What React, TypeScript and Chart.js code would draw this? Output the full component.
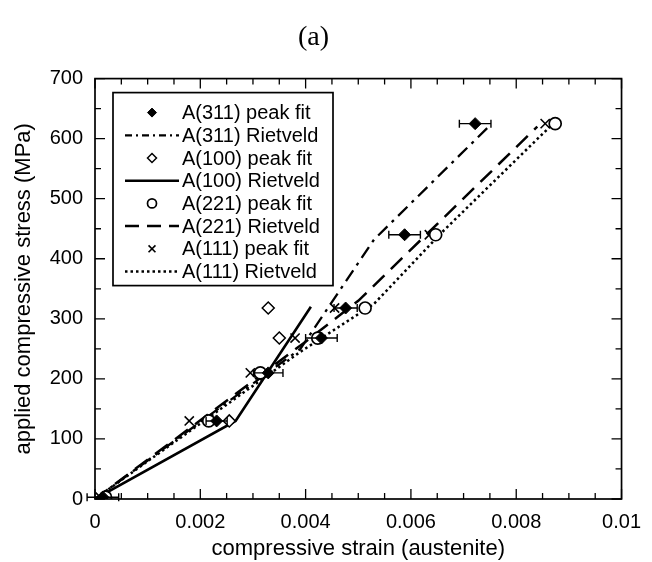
import { useEffect, useRef } from 'react';
import { Chart, registerables } from 'chart.js';
import { drawPoint } from 'chart.js/helpers';

Chart.register(...registerables);

const titleText = '(a)';
const xAxisTitle = 'compressive strain (austenite)';
const yAxisTitle = 'applied compressive stress (MPa)';
const xTickLabels = ['0', '0.002', '0.004', '0.006', '0.008', '0.01'];
const yTickLabels = ['0', '100', '200', '300', '400', '500', '600', '700'];

// peak fits
const a311Strain = [0.00015, 0.00231, 0.00329, 0.0043, 0.00476, 0.00588, 0.00722];
const a311Stress = [3, 130, 210, 268, 318, 440, 625];
const a311Err = [0.0003, 0.0002, 0.00028, 0.0003, 0.00022, 0.0003, 0.0003];

const a100Strain = [0.00255, 0.0035, 0.00329];
const a100Stress = [130, 268, 318];

const a221Strain = [0.0002, 0.00216, 0.00314, 0.00423, 0.00513, 0.00647, 0.00874];
const a221Stress = [3, 130, 210, 268, 318, 440, 625];

const a111Strain = [0.0001, 0.00179, 0.00295, 0.0038, 0.00455, 0.00635, 0.00855];
const a111Stress = [3, 130, 210, 268, 318, 440, 625];

// Rietveld fits
const a311RvStrain = [0, 0.0039, 0.0053, 0.0075];
const a311RvStress = [0, 250, 432, 622];
const a100RvStrain = [0, 0.00267, 0.0041];
const a100RvStress = [0, 130, 320];
const a221RvStrain = [0, 0.004, 0.005, 0.0084];
const a221RvStress = [0, 262, 330, 620];
const a111RvStrain = [0, 0.0039, 0.0053, 0.0066, 0.0087];
const a111RvStress = [0, 245, 325, 445, 625];

const legendLabels = [
  'A(311) peak fit',
  'A(311) Rietveld',
  'A(100) peak fit',
  'A(100) Rietveld',
  'A(221) peak fit',
  'A(221) Rietveld',
  'A(111) peak fit',
  'A(111) Rietveld',
];

const SANS = "'Liberation Sans', Arial, Helvetica, sans-serif";

const pts = (xs: number[], ys: number[]) => xs.map((x, i) => ({ x, y: ys[i] }));

const errorBarPlugin = {
  id: 'errorBars',
  afterDatasetsDraw(chart: any) {
    const ctx = chart.ctx;
    const xs = chart.scales.x;
    const ys = chart.scales.y;
    ctx.save();
    ctx.strokeStyle = '#000';
    ctx.lineWidth = 1.4;
    a311Strain.forEach((v, i) => {
      const y = ys.getPixelForValue(a311Stress[i]);
      const x1 = xs.getPixelForValue(v - a311Err[i]);
      const x2 = xs.getPixelForValue(v + a311Err[i]);
      ctx.beginPath();
      ctx.moveTo(x1, y);
      ctx.lineTo(x2, y);
      ctx.moveTo(x1, y - 4);
      ctx.lineTo(x1, y + 4);
      ctx.moveTo(x2, y - 4);
      ctx.lineTo(x2, y + 4);
      ctx.stroke();
    });
    ctx.restore();
  },
};

const framePlugin = {
  id: 'frameTicks',
  afterDraw(chart: any) {
    const ctx = chart.ctx;
    const { left, right, top, bottom } = chart.chartArea;
    const xs = chart.scales.x;
    const ys = chart.scales.y;
    ctx.save();
    ctx.strokeStyle = '#000';
    ctx.lineWidth = 1.3;
    ctx.beginPath();
    for (let i = 0; i <= 20; i++) {
      const x = xs.getPixelForValue(i * 0.0005);
      const len = i % 4 === 0 ? 10 : 6;
      ctx.moveTo(x, bottom);
      ctx.lineTo(x, bottom - len);
      ctx.moveTo(x, top);
      ctx.lineTo(x, top + len);
    }
    for (let i = 0; i <= 14; i++) {
      const y = ys.getPixelForValue(i * 50);
      const len = i % 2 === 0 ? 10 : 6;
      ctx.moveTo(left, y);
      ctx.lineTo(left + len, y);
      ctx.moveTo(right, y);
      ctx.lineTo(right - len, y);
    }
    ctx.stroke();
    ctx.lineWidth = 1.7;
    ctx.strokeRect(left, top, right - left, bottom - top);

    // legend
    const bx = left + 18;
    const by = top + 14;
    const bw = 220;
    const bh = 193;
    ctx.fillStyle = '#fff';
    ctx.fillRect(bx, by, bw, bh);
    ctx.lineWidth = 1.7;
    ctx.strokeRect(bx, by, bw, bh);
    const order = [0, 4, 1, 5, 2, 6, 3, 7];
    legendLabels.forEach((label, i) => {
      const ds = chart.data.datasets[order[i]];
      const y = by + 20 + i * 22.7;
      if (ds.showLine) {
        ctx.save();
        ctx.strokeStyle = '#000';
        ctx.lineWidth = ds.borderWidth;
        ctx.setLineDash(ds.legendDash || ds.borderDash || []);
        ctx.beginPath();
        ctx.moveTo(bx + 12, y);
        ctx.lineTo(bx + 66, y);
        ctx.stroke();
        ctx.restore();
      } else {
        ctx.save();
        ctx.fillStyle = ds.pointBackgroundColor;
        ctx.strokeStyle = ds.pointBorderColor;
        ctx.lineWidth = ds.pointBorderWidth;
        drawPoint(ctx, {
          pointStyle: ds.pointStyle,
          radius: ds.pointRadius * 0.75,
          rotation: 0,
          borderWidth: ds.pointBorderWidth,
        } as any, bx + 39, y);
        ctx.restore();
      }
      ctx.fillStyle = '#000';
      ctx.font = `20px ${SANS}`;
      ctx.textBaseline = 'middle';
      ctx.textAlign = 'left';
      ctx.fillText(label, bx + 69, y + 1);
    });
    ctx.restore();
  },
};

export default function App() {
  const ref = useRef<HTMLCanvasElement>(null);
  useEffect(() => {
    const canvas = ref.current!;
    const lineDs = (data: any[], dash: number[], width: number) => ({
      data,
      showLine: true,
      borderColor: '#000',
      backgroundColor: '#000',
      borderWidth: width,
      borderDash: dash,
      pointRadius: 0,
      fill: false,
      tension: 0,
      order: 1,
    });
    const pointDs = (data: any[], style: string, radius: number, bg: string, bw: number) => ({
      data,
      showLine: false,
      pointStyle: style,
      pointRadius: radius,
      pointBackgroundColor: bg,
      pointBorderColor: '#000',
      pointBorderWidth: bw,
      backgroundColor: bg,
      borderColor: '#000',
      order: 0,
    });
    const chart = new Chart(canvas, {
      type: 'scatter',
      data: {
        datasets: [
          pointDs(pts(a311Strain, a311Stress), 'rectRot', 6, '#000', 1),
          pointDs(pts(a100Strain, a100Stress), 'rectRot', 6, '#fff', 1.5),
          pointDs(pts(a221Strain, a221Stress), 'circle', 6, '#fff', 1.7),
          pointDs(pts(a111Strain, a111Stress), 'crossRot', 6.5, '#000', 1.6),
          { ...lineDs(pts(a311RvStrain, a311RvStress), [13, 6, 3, 6], 2.3), legendDash: [7, 4, 2, 4] },
          lineDs(pts(a100RvStrain, a100RvStress), [], 2.6),
          { ...lineDs(pts(a221RvStrain, a221RvStress), [16, 9], 2.5), legendDash: [14, 8] },
          lineDs(pts(a111RvStrain, a111RvStress), [2.5, 3], 2.5),
        ] as any,
      },
      options: {
        animation: false,
        responsive: false,
        maintainAspectRatio: false,
        layout: { padding: { left: 0, right: 25, top: 0, bottom: 0 } },
        plugins: {
          legend: { display: false },
          tooltip: { enabled: false },
          title: {
            display: true,
            text: titleText,
            color: '#000',
            font: { family: "'Liberation Serif', 'Times New Roman', serif", size: 28, weight: 'normal' },
            padding: { top: 21, bottom: 24 },
          },
        },
        scales: {
          x: {
            type: 'linear',
            min: 0,
            max: 0.01,
            grid: { display: false, drawTicks: false },
            border: { display: false },
            ticks: {
              stepSize: 0.002,
              color: '#000',
              padding: 11,
              font: { family: SANS, size: 20 },
              maxRotation: 0,
              callback: (_v: any, i: number) => xTickLabels[i],
            },
            title: {
              display: true,
              text: xAxisTitle,
              color: '#000',
              font: { family: SANS, size: 22 },
              padding: { top: 0, bottom: 0 },
            },
            afterFit: (s: any) => {
              s.height = 63;
            },
          },
          y: {
            type: 'linear',
            min: 0,
            max: 700,
            grid: { display: false, drawTicks: false },
            border: { display: false },
            ticks: {
              stepSize: 100,
              color: '#000',
              padding: 12,
              font: { family: SANS, size: 20 },
              callback: (_v: any, i: number) => yTickLabels[i],
            },
            title: {
              display: true,
              text: yAxisTitle,
              color: '#000',
              font: { family: SANS, size: 22 },
              padding: { top: 11, bottom: 0 },
            },
            afterFit: (s: any) => {
              s.width = 95;
            },
          },
        },
      },
      plugins: [errorBarPlugin, framePlugin],
    } as any);
    return () => chart.destroy();
  }, []);
  return (
    <div style={{ position: 'absolute', left: 0, top: 0, width: 652, height: 562, background: '#fff' }}>
      <canvas ref={ref} width={652} height={562} style={{ display: 'block' }} />
    </div>
  );
}
